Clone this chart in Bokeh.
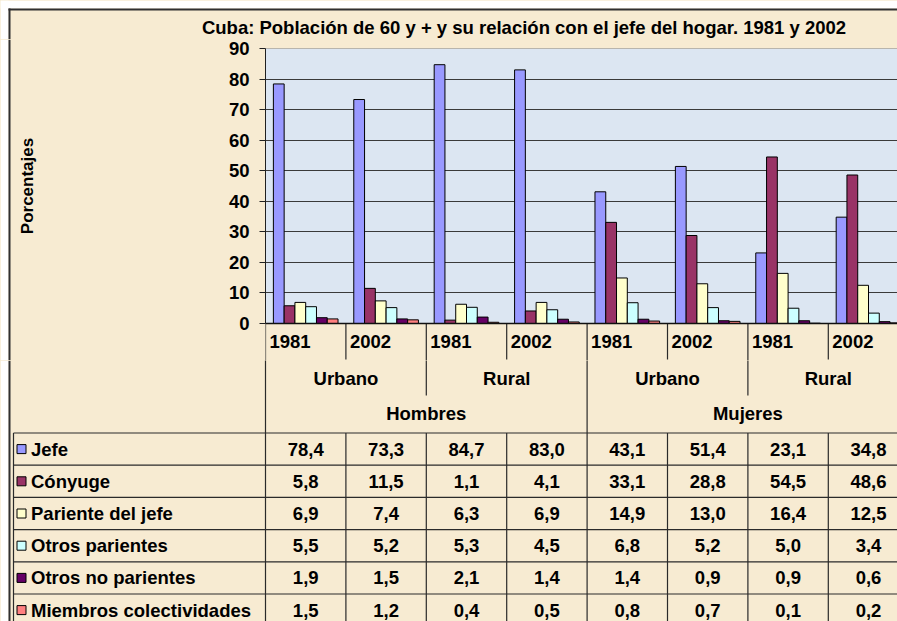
import numpy as np
from bokeh.plotting import figure
from bokeh.models import Range1d, FixedTicker
from bokeh.layouts import column, row
from bokeh.core.properties import value
from bokeh.embed import file_html
from bokeh.resources import INLINE

# ---------------- data ----------------
title_text = "Cuba: Población de 60 y + y su relación con el jefe del hogar. 1981 y 2002"
y_label_text = "Porcentajes"
years = ["1981", "2002", "1981", "2002", "1981", "2002", "1981", "2002"]
zones = ["Urbano", "Rural", "Urbano", "Rural"]
sexes = ["Hombres", "Mujeres"]
series_names = ["Jefe", "Cónyuge", "Pariente del jefe", "Otros parientes",
                "Otros no parientes", "Miembros colectividades"]
jefe = [78.4, 73.3, 84.7, 83.0, 43.1, 51.4, 23.1, 34.8]
conyuge = [5.8, 11.5, 1.1, 4.1, 33.1, 28.8, 54.5, 48.6]
pariente = [6.9, 7.4, 6.3, 6.9, 14.9, 13.0, 16.4, 12.5]
otros_parientes = [5.5, 5.2, 5.3, 4.5, 6.8, 5.2, 5.0, 3.4]
otros_no_parientes = [1.9, 1.5, 2.1, 1.4, 1.4, 0.9, 0.9, 0.6]
miembros = [1.5, 1.2, 0.4, 0.5, 0.8, 0.7, 0.1, 0.2]
y_ticks = [0, 10, 20, 30, 40, 50, 60, 70, 80, 90]

series_values = [jefe, conyuge, pariente, otros_parientes, otros_no_parientes, miembros]

# ---------------- style / layout ----------------
colors = ["#9999FF", "#993366", "#FFFFCC", "#CCFFFF", "#660066", "#FF8080"]
PAPER = "#F7EBD2"
PLOT_BG = "#DCE6F2"
BORDER = "#303030"
LINE = "#2a2a2a"
FONT = "Liberation Sans"
FS = "18.5px"

WIN_W, WIN_H = 897, 621
PX = 80.4                  # pixels per category group
PLOT_L = 265               # page x of plot-area left edge
PLOT_T, PLOT_B = 48, 323   # page y of 90 and 0
TITLE_H = 39
MID_B = 360                # bottom of the chart row
LEFT_W = 200
BAR_W = 0.134
n = len(jefe)
gx = np.arange(n)

Y_YEAR, Y_ZONE, Y_SEX = 340.5, 378, 413
Y_YEAR_END, Y_ZONE_END = 359, 395
TABLE_TOP, ROW_H = 432.5, 32.2
Y_BOTTOM = WIN_H + 20

def xd(px):
    """page x -> category data x"""
    return (px - PLOT_L) / PX - 0.5

ppu = (PLOT_B - PLOT_T) / 90.0

def yv(py):
    """page y -> value axis data y"""
    return (PLOT_B - py) / ppu

def common(p):
    p.toolbar_location = None
    try:
        p.frame_align = False
    except Exception:
        pass
    return p

def pane(w, h, xr, yr):
    p = figure(width=w, height=h, x_range=xr, y_range=yr, x_axis_location=None,
               y_axis_location=None, toolbar_location=None, output_backend="svg",
               min_border=0)
    p.background_fill_color = PAPER
    p.border_fill_color = PAPER
    p.outline_line_color = None
    p.grid.visible = False
    return common(p)

txt = dict(text_font=value(FONT), text_font_style="bold", text_font_size=value(FS),
           text_color="black", text_baseline="middle")

# ---------------- title strip ----------------
pt = pane(WIN_W, TITLE_H, Range1d(0, WIN_W), Range1d(TITLE_H, 0))
pt.quad(left=[0, 0], right=[WIN_W, 8], top=[0, 0], bottom=[8, TITLE_H],
        fill_color="white", line_color=None)
pt.quad(left=[8, 8], right=[WIN_W, 10], top=[8, 8], bottom=[10, TITLE_H],
        fill_color=BORDER, line_color=None)
pt.text(x=[523.5], y=[27], text=[title_text], text_align="center", **txt)

# ---------------- left strip (axis title) ----------------
pl = pane(LEFT_W, MID_B - TITLE_H, Range1d(0, LEFT_W), Range1d(MID_B, TITLE_H))
pl.quad(left=[0, 8], right=[8, 10], top=[TITLE_H, TITLE_H], bottom=[MID_B, MID_B],
        fill_color=["white", BORDER], line_color=None)
pl.text(x=[27], y=[(PLOT_T + PLOT_B) / 2], text=[y_label_text], angle=np.pi / 2,
        text_align="center", text_baseline="middle", text_font=value(FONT),
        text_font_style="bold", text_font_size=value("17px"), text_color="black")

# ---------------- chart ----------------
pa = figure(width=WIN_W - LEFT_W, height=MID_B - TITLE_H,
            x_range=Range1d(-0.5, xd(WIN_W)),
            y_range=Range1d(yv(MID_B), 90),
            x_axis_location=None, y_axis_location="left", toolbar_location=None,
            output_backend="svg", min_border_left=PLOT_L - LEFT_W, min_border_right=0,
            min_border_top=PLOT_T - TITLE_H, min_border_bottom=0)
common(pa)
pa.background_fill_color = PAPER
pa.border_fill_color = PAPER
pa.outline_line_color = None
pa.xgrid.visible = False
pa.ygrid.ticker = FixedTicker(ticks=y_ticks)
pa.ygrid.grid_line_color = "#3a3a3a"
pa.ygrid.grid_line_width = 1

ax = pa.yaxis[0]
ax.ticker = FixedTicker(ticks=y_ticks)
ax.bounds = (0, 90)
ax.axis_line_color = "#202020"
ax.major_tick_line_color = "#202020"
ax.major_tick_out = 6
ax.major_tick_in = 0
ax.minor_tick_line_color = None
ax.major_label_standoff = 10
ax.major_label_text_font = FONT
ax.major_label_text_font_style = "bold"
ax.major_label_text_font_size = FS
ax.major_label_text_color = "black"

# plot-area background (0..90)
bg = pa.quad(left=[-0.5], right=[xd(WIN_W) + 1], bottom=[0], top=[90],
             fill_color=PLOT_BG, line_color="#808080", line_width=1)
bg.level = "image"

for k, vals in enumerate(series_values):
    pa.vbar(x=gx + (k - 2.5) * BAR_W, top=vals, bottom=0, width=BAR_W,
            fill_color=colors[k], line_color="black", line_width=1)

# category separators: (boundary, page y where it ends)
separators = [(-0.5, Y_BOTTOM), (0.5, Y_YEAR_END), (1.5, Y_ZONE_END), (2.5, Y_YEAR_END),
              (3.5, Y_BOTTOM), (4.5, Y_YEAR_END), (5.5, Y_ZONE_END), (6.5, Y_YEAR_END)]
pa.segment(x0=[s[0] for s in separators], y0=[0] * len(separators),
           x1=[s[0] for s in separators], y1=[yv(min(s[1], MID_B + 2)) for s in separators],
           line_color=LINE, line_width=1.2)
pa.segment(x0=[-0.5], y0=[0], x1=[xd(WIN_W) + 1], y1=[0], line_color="#101010", line_width=1.5)
pa.text(x=gx - 0.5 + 4 / PX, y=[yv(Y_YEAR)] * n, text=years, text_align="left", **txt)

# ---------------- category groups + data table ----------------
pb = pane(WIN_W, WIN_H - MID_B, Range1d(xd(0), xd(WIN_W)), Range1d(WIN_H, MID_B))
pb.quad(left=[xd(0), xd(8)], right=[xd(8), xd(10)], top=[MID_B, MID_B], bottom=[WIN_H, WIN_H],
        fill_color=["white", BORDER], line_color=None)

x_right = xd(WIN_W) + 1
x0s, y0s, x1s, y1s = [], [], [], []
def seg(a, b, c, d):
    x0s.append(a); y0s.append(b); x1s.append(c); y1s.append(d)

for b, end in separators:
    if end > MID_B:
        seg(b, MID_B - 2, b, end)
for b in [0.5, 1.5, 2.5, 4.5, 5.5, 6.5]:
    seg(b, TABLE_TOP, b, Y_BOTTOM)
seg(xd(13), TABLE_TOP, xd(13), Y_BOTTOM)
for i in range(len(series_names)):
    yy = TABLE_TOP + i * ROW_H
    seg(xd(13), yy, x_right, yy)
pb.segment(x0=x0s, y0=y0s, x1=x1s, y1=y1s, line_color=LINE, line_width=1.2)

pb.text(x=[0.5, 2.5, 4.5, 6.5], y=[Y_ZONE] * 4, text=zones, text_align="center", **txt)
pb.text(x=[1.5, 5.5], y=[Y_SEX] * 2, text=sexes, text_align="center", **txt)

row_c = [TABLE_TOP + ROW_H / 2 + i * ROW_H for i in range(len(series_names))]
pb.rect(x=[xd(21)] * len(series_names), y=row_c, width=9, height=9,
        width_units="screen", height_units="screen", fill_color=colors,
        line_color="black", line_width=1)
pb.text(x=[xd(30.5)] * len(series_names), y=row_c, text=series_names,
        text_align="left", **txt)
for i, vals in enumerate(series_values):
    labels = [f"{v:.1f}".replace(".", ",") for v in vals]
    pb.text(x=gx, y=[row_c[i]] * n, text=labels, text_align="center", **txt)

mid = row(pl, pa, spacing=0)
layout = column(pt, mid, pb, spacing=0)
for lay in (mid, layout):
    try:
        lay.styles = {"background-color": PAPER}
    except Exception:
        pass
open("out.html", "w").write(file_html(layout, INLINE))
